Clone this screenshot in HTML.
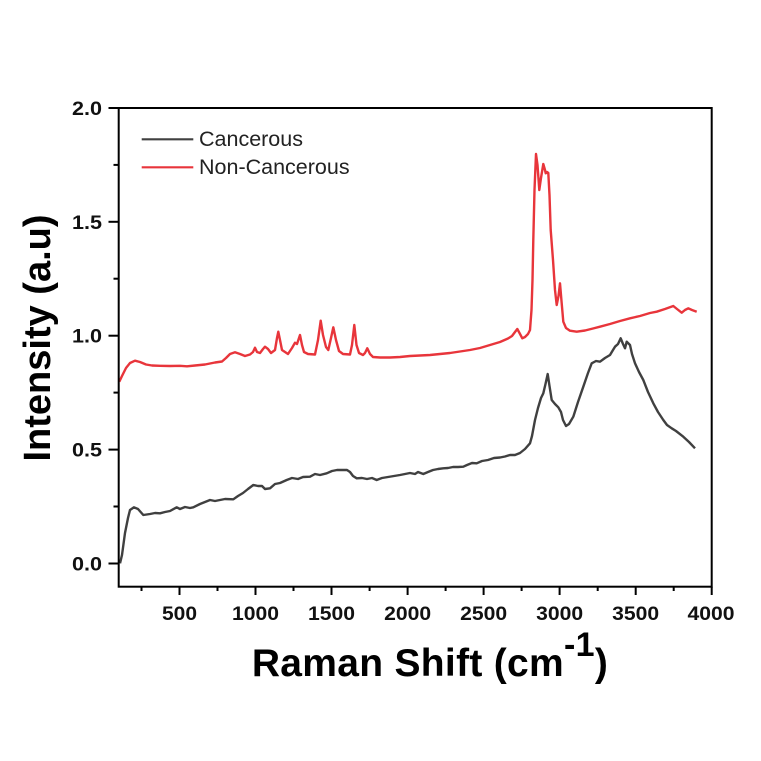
<!DOCTYPE html>
<html>
<head>
<meta charset="utf-8">
<style>
  html, body { margin:0; padding:0; background:#fff; }
  svg { display:block; }
  text { font-family: "Liberation Sans", Arial, sans-serif; }
</style>
</head>
<body>
<svg width="761" height="761" viewBox="0 0 761 761" xmlns="http://www.w3.org/2000/svg">
  <rect x="0" y="0" width="761" height="761" fill="#fff"/>

  <!-- series: Non-Cancerous (red) -->
  <polyline fill="none" stroke="#e8353b" stroke-width="2.4" stroke-linejoin="round" points="
119.3,381.7 122,376 126,368 130,363 135,360.7 140,362 146,364.5 152,365.5 160,365.8 170,366 180,365.8 187,366.3 195,365.5 205,364.5 215,362.5 222,361.5 226,358 230,354 235,352.3 240,354 245,356 250,354.5 253,352 255,347.7 257,352 260,353 263,349 265,346.7 268,349 271,353 275,350 277,338 278.3,331.7 280,340 282,350 285,352 288,354 292,348 295,342.7 297,344 300,335 302,345 304,352 308,354 315,354.5 318,340 320.7,320.7 323,335 326,347 328.3,350 331,338 333.3,327.3 336,340 339,351 343,354 350,354.5 352,345 354.3,325 356.5,345 359,353 363,355 365,353 367.3,348.3 370,354 373,357 380,357.5 390,357.5 400,357 410,356 420,355.5 430,355 440,354 450,353 460,351.5 470,350 480,348 490,345 500,342 508,338.5 512,336 515,332 517.3,329 519.5,333 522.3,338.3 525,337 528,334 530,330 531.5,310 532.5,280 533.3,240 534.5,190 536,154 537.5,165 539.3,190 541,178 543.3,164 545,170 545.7,173.3 547,172 548.3,173 549.5,195 550.7,230 553,260 555,290 556.7,305 558.5,296 560,283.3 561.7,303.3 563.3,321.7 566,328 570,330.7 576.7,331.7 585,330.5 593,328.5 600,326.7 610,324 620,321 630,318.3 640,316 650,313 656.7,311.7 665,309 673.3,306 677,309 681.7,312.7 685,310 688.3,308.3 692,310 696.7,311.7"/>

  <!-- series: Cancerous (dark gray) -->
  <polyline fill="none" stroke="#404040" stroke-width="2.4" stroke-linejoin="round" points="
120,563.3 122,555 125,533 128,518 130,510 134,507.3 138,509 143.3,515 150,514 155,513 160,513.3 165,512 170,511 176.7,507.3 180,509 185,507 190,508 193.3,507.3 200,504 205,502 210,500 215,501 220,500 225,499 233.3,499.3 238,496 243,493 248,489 253.3,485 258,486 262,486 265,489 270,488.3 275,484 280,483 286.7,480 292,478 298,479 303,477 310,476.7 315,474 320,475 326.7,473.3 332,471 337,470 343,470 347,470 350,472 353,476 356.7,478.3 362,478 367,479 372,478 376.7,480 382,478 388,477 394,476 400,475 405,474 410,473 415,474 418,472 423.3,474 428,472 433,470 438,469 443.3,468.3 448,468 453,467 458,467 463.3,466.7 467,465 472,463 476.7,463.3 482,461 488,460 494,458 500,457.5 505,456.5 510,455 515,455 520,453 525,449 530,443.3 532,436 535,420 538,408 541,398 543.3,393.3 545.5,384 547.7,374 549.5,386 551.7,400 555,404 558.3,407.3 561,412 563,420 566,426 569,424 573.3,416.7 578,402 583.3,386.7 588,373 591.7,363.3 596,361 600,361.7 605,358 610,355 613,350 615,346.7 618,344 620.7,338.3 623,344 625,348.3 626.7,341.7 628,343 630,345 632,354 635,363.3 639,372 643.3,380 648,392 653.3,403.3 658,412 663.3,420 667,425 671.7,428.3 676,431 683.3,436.7 689,442 695,448.3"/>

  <!-- axes frame -->
  <rect x="118.7" y="108" width="593" height="478.7" fill="none" stroke="#000" stroke-width="2"/>

  <!-- x ticks -->
  <g stroke="#000" stroke-width="2">
    <line x1="179.5" y1="586.7" x2="179.5" y2="595"/>
    <line x1="255.5" y1="586.7" x2="255.5" y2="595"/>
    <line x1="331.5" y1="586.7" x2="331.5" y2="595"/>
    <line x1="407.6" y1="586.7" x2="407.6" y2="595"/>
    <line x1="483.6" y1="586.7" x2="483.6" y2="595"/>
    <line x1="559.6" y1="586.7" x2="559.6" y2="595"/>
    <line x1="635.7" y1="586.7" x2="635.7" y2="595"/>
    <line x1="711.7" y1="586.7" x2="711.7" y2="595"/>
    <line x1="141.5" y1="586.7" x2="141.5" y2="591"/>
    <line x1="217.5" y1="586.7" x2="217.5" y2="591"/>
    <line x1="293.5" y1="586.7" x2="293.5" y2="591"/>
    <line x1="369.6" y1="586.7" x2="369.6" y2="591"/>
    <line x1="445.6" y1="586.7" x2="445.6" y2="591"/>
    <line x1="521.6" y1="586.7" x2="521.6" y2="591"/>
    <line x1="597.7" y1="586.7" x2="597.7" y2="591"/>
    <line x1="673.7" y1="586.7" x2="673.7" y2="591"/>
  </g>
  <!-- y ticks -->
  <g stroke="#000" stroke-width="2">
    <line x1="108.5" y1="563.5" x2="118.7" y2="563.5"/>
    <line x1="108.5" y1="449.6" x2="118.7" y2="449.6"/>
    <line x1="108.5" y1="335.7" x2="118.7" y2="335.7"/>
    <line x1="108.5" y1="221.8" x2="118.7" y2="221.8"/>
    <line x1="108.5" y1="108" x2="118.7" y2="108"/>
    <line x1="113.5" y1="506.5" x2="118.7" y2="506.5"/>
    <line x1="113.5" y1="392.6" x2="118.7" y2="392.6"/>
    <line x1="113.5" y1="278.7" x2="118.7" y2="278.7"/>
    <line x1="113.5" y1="164.9" x2="118.7" y2="164.9"/>
  </g>

  <!-- x tick labels -->
  <g font-size="19" font-weight="bold" fill="#111" text-anchor="middle">
    <text x="179.5" y="620" textLength="35" lengthAdjust="spacingAndGlyphs">500</text>
    <text x="255.5" y="620" textLength="47" lengthAdjust="spacingAndGlyphs">1000</text>
    <text x="331.5" y="620" textLength="47" lengthAdjust="spacingAndGlyphs">1500</text>
    <text x="407.6" y="620" textLength="47" lengthAdjust="spacingAndGlyphs">2000</text>
    <text x="483.6" y="620" textLength="47" lengthAdjust="spacingAndGlyphs">2500</text>
    <text x="559.6" y="620" textLength="47" lengthAdjust="spacingAndGlyphs">3000</text>
    <text x="635.7" y="620" textLength="47" lengthAdjust="spacingAndGlyphs">3500</text>
    <text x="711" y="620" textLength="47" lengthAdjust="spacingAndGlyphs">4000</text>
  </g>
  <!-- y tick labels -->
  <g font-size="19" font-weight="bold" fill="#111" text-anchor="end">
    <text x="102" y="570.5" textLength="30" lengthAdjust="spacingAndGlyphs">0.0</text>
    <text x="102" y="456.6" textLength="30" lengthAdjust="spacingAndGlyphs">0.5</text>
    <text x="102" y="342.7" textLength="30" lengthAdjust="spacingAndGlyphs">1.0</text>
    <text x="102" y="228.8" textLength="30" lengthAdjust="spacingAndGlyphs">1.5</text>
    <text x="102" y="115" textLength="30" lengthAdjust="spacingAndGlyphs">2.0</text>
  </g>

  <!-- axis titles -->
  <text x="430" y="676" font-size="39" font-weight="bold" fill="#000" text-anchor="middle" letter-spacing="0.3">Raman Shift (cm<tspan font-size="34" dy="-20">-1</tspan><tspan dy="20">)</tspan></text>
  <text transform="translate(50,338) rotate(-90)" font-size="38" font-weight="bold" fill="#000" text-anchor="middle">Intensity (a.u)</text>

  <!-- legend -->
  <line x1="141.7" y1="139.3" x2="193.3" y2="139.3" stroke="#404040" stroke-width="2.2"/>
  <line x1="141.7" y1="167.3" x2="193.3" y2="167.3" stroke="#e8353b" stroke-width="2.2"/>
  <text x="199" y="146" font-size="21.5" fill="#222">Cancerous</text>
  <text x="199" y="174" font-size="21.5" fill="#222">Non-Cancerous</text>
</svg>
</body>
</html>
